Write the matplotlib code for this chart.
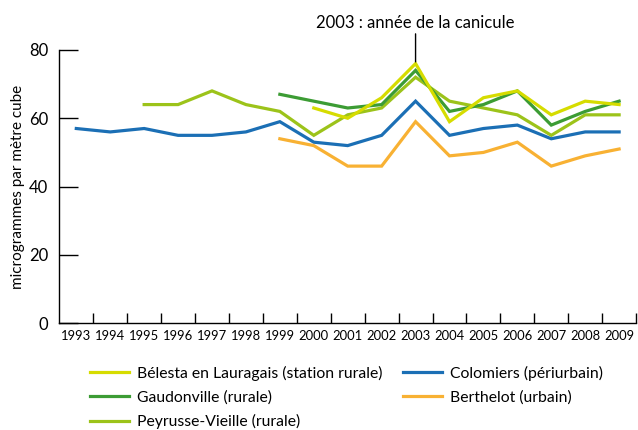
import numpy as np
import matplotlib
matplotlib.use('Agg')
import matplotlib.pyplot as plt

plt.rcParams['font.family'] = ['Lato', 'DejaVu Sans']

years = list(range(1993, 2010))

colomiers = [57, 56, 57, 55, 55, 56, 59, 53, 52, 55, 65, 55, 57, 58, 54, 56, 56]
berthelot = [None] * 6 + [54, 52, 46, 46, 59, 49, 50, 53, 46, 49, 51]
peyrusse = [None] * 2 + [64, 64, 68, 64, 62, 55, 61, 63, 72, 65, 63, 61, 55, 61, 61]
gaudonville = [None] * 6 + [67, 65, 63, 64, 74, 62, 64, 68, 58, 62, 65]
belesta = [None] * 7 + [63, 60, 66, 76, 59, 66, 68, 61, 65, 64]

labels = {
    'belesta': 'Bélesta en Lauragais (station rurale)',
    'gaudonville': 'Gaudonville (rurale)',
    'peyrusse': 'Peyrusse-Vieille (rurale)',
    'colomiers': 'Colomiers (périurbain)',
    'berthelot': 'Berthelot (urbain)',
}
colors = {
    'belesta': '#d6dc00',
    'gaudonville': '#3c9c34',
    'peyrusse': '#9cc31a',
    'colomiers': '#1b6fb5',
    'berthelot': '#f8b133',
}


def to_arr(vals):
    return np.array([np.nan if v is None else v for v in vals], dtype=float)


fig = plt.figure(figsize=(6.38, 4.30), dpi=100)
ax = fig.add_axes([0.093, 0.248, 0.904, 0.636])

x = np.arange(len(years))
series = [('colomiers', colomiers), ('berthelot', berthelot), ('peyrusse', peyrusse),
          ('gaudonville', gaudonville), ('belesta', belesta)]
lines = {}
for key, vals in series:
    ln, = ax.plot(x, to_arr(vals), color=colors[key], lw=2.3, label=labels[key],
                  solid_joinstyle='miter')
    lines[key] = ln

ax.set_xlim(-0.5, len(years) - 0.5)
ax.set_ylim(0, 80)
for s in ['top', 'right']:
    ax.spines[s].set_visible(False)
ax.spines['left'].set_linewidth(1.0)
ax.spines['bottom'].set_linewidth(1.0)

ax.set_yticks([0, 20, 40, 60, 80])
ax.tick_params(axis='y', direction='in', length=14, width=1, labelsize=12, pad=8)

ax.set_xticks(np.arange(0.5, len(years), 1.0))
ax.set_xticklabels([])
ax.tick_params(axis='x', which='major', direction='in', length=7, width=1)
ax.set_xticks(x, minor=True)
ax.set_xticklabels([str(y) for y in years], minor=True, fontsize=9.4)
ax.tick_params(axis='x', which='minor', length=0, pad=5)

ax.set_ylabel('microgrammes par mètre cube', fontsize=11, labelpad=3)

# annotation canicule
i03 = years.index(2003)
ax.annotate('2003 : année de la canicule', xy=(i03, 76.5), xytext=(i03, 85.5),
            ha='center', va='bottom', fontsize=12, annotation_clip=False,
            arrowprops=dict(arrowstyle='-', color='black', lw=1.0, shrinkA=0, shrinkB=0))

order = ['belesta', 'gaudonville', 'peyrusse', 'colomiers', 'berthelot']
fig.legend([lines[k] for k in order], [labels[k] for k in order], ncol=2,
           loc='upper left', bbox_to_anchor=(0.131, 0.164), frameon=False,
           fontsize=11.3, handlelength=2.5, handletextpad=0.5, columnspacing=1.3,
           labelspacing=0.6, borderaxespad=0)

fig.savefig('out.png', dpi=100)
